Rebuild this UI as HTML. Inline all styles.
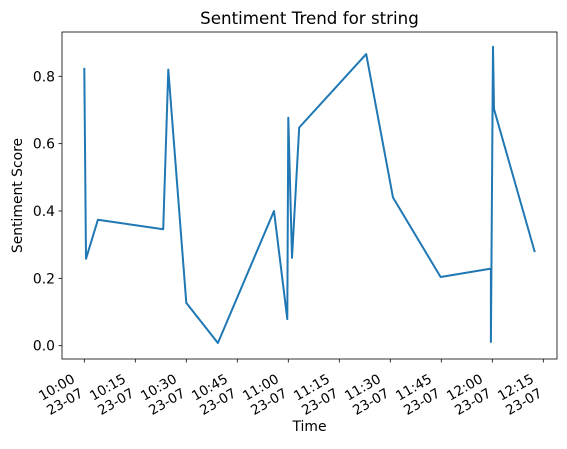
<!DOCTYPE html>
<html><head><meta charset="utf-8"><style>
body{margin:0;background:#fff}
text{font-family:"DejaVu Sans","Liberation Sans",sans-serif;fill:#000}
</style></head><body>
<svg id="chart" width="567" height="444" viewBox="0 0 567 444" xmlns="http://www.w3.org/2000/svg">
<text x="309.5" y="24" font-size="16.7" text-anchor="middle">Sentiment Trend for string</text>
<text x="22" y="195.5" font-size="13.9" text-anchor="middle" transform="rotate(-90 22 195.5)">Sentiment Score</text>
<text x="309.5" y="431" font-size="13.9" text-anchor="middle">Time</text>
<g id="ticks"></g>
<path id="line" fill="none" stroke="#1f77b4" stroke-width="2" stroke-linejoin="round"/>
<rect x="62" y="32" width="495" height="327" fill="none" stroke="#000" stroke-width="0.8"/>
</svg>
<script>
const minutes=[0,0.5,4,23.2,24.7,30,39.3,55.8,59.7,60,61.1,63.2,82.9,90.8,104.8,119.6,119.6,120.2,120.5,132.5];
const scores=[0.825,0.258,0.374,0.346,0.82,0.127,0.008,0.40,0.079,0.677,0.261,0.648,0.866,0.44,0.204,0.229,0.011,0.888,0.703,0.278];
const xTickMinutes=[0,15,30,45,60,75,90,105,120,135];
const xTickLabels=["10:00","10:15","10:30","10:45","11:00","11:15","11:30","11:45","12:00","12:15"];
const yTicks=[0,0.2,0.4,0.6,0.8];
const yTickLabels=["0.0","0.2","0.4","0.6","0.8"];
const xs=t=>84.3+t*3.4;
const ys=v=>345.7-v*336.75;
const NS="http://www.w3.org/2000/svg";
const g=document.getElementById('ticks');
function mk(tag,attrs){const e=document.createElementNS(NS,tag);for(const k in attrs)e.setAttribute(k,attrs[k]);return e;}
yTicks.forEach((v,i)=>{
 const y=ys(v);
 const l=mk('line',{x1:58.5,x2:62,y1:y,y2:y,stroke:'#000','stroke-width':0.8});
 
 
 g.appendChild(l);
 const t=mk('text',{x:55,y:y+5,'font-size':13.9,'text-anchor':'end'});
 
 
 t.textContent=yTickLabels[i];g.appendChild(t);
});
xTickMinutes.forEach((m,i)=>{
 const x=xs(m);
 const l=mk('line',{x1:x,x2:x,y1:359,y2:362.5,stroke:'#000','stroke-width':0.8});
 
 
 g.appendChild(l);
 const t=mk('text',{'font-size':13.5,'text-anchor':'end',transform:`translate(${x-14},${372}) rotate(-30)`});
 
 
 const a=mk('tspan',{x:0,dy:11});a.textContent=xTickLabels[i];
 const b=mk('tspan',{x:0,dy:16.5});b.textContent="23-07";
 t.appendChild(a);t.appendChild(b);g.appendChild(t);
});
document.getElementById('line').setAttribute('d',minutes.map((m,i)=>(i?'L':'M')+xs(m).toFixed(1)+','+ys(scores[i]).toFixed(1)).join(''));
</script>
</body></html>
